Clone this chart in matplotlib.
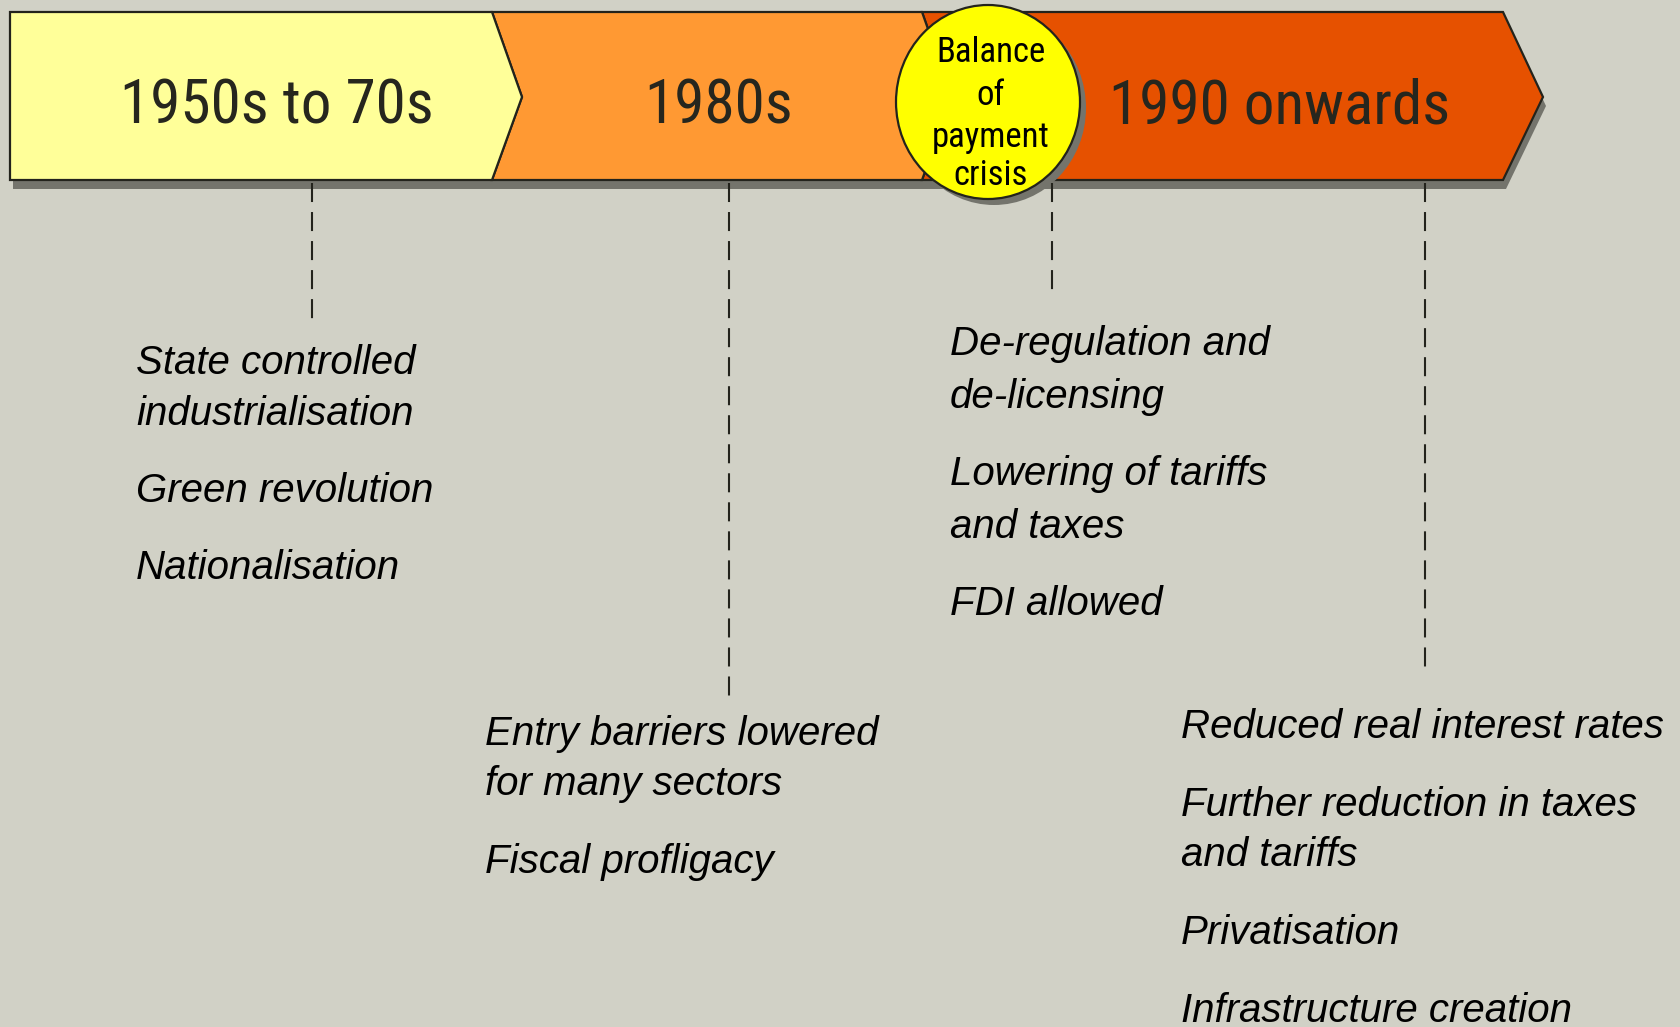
import matplotlib
matplotlib.use("Agg")
import matplotlib.pyplot as plt
from matplotlib.patches import Polygon, Ellipse
from matplotlib import font_manager

# ---------------- data ----------------
periods = ["1950s to 70s", "1980s", "1990 onwards"]
period_colors = ["#FFFF99", "#FF9933", "#E65100"]
crisis_lines = ["Balance", "of", "payment", "crisis"]

block_1950s = [["State controlled", "industrialisation"], ["Green revolution"], ["Nationalisation"]]
block_1980s = [["Entry barriers lowered", "for many sectors"], ["Fiscal profligacy"]]
block_1991 = [["De-regulation and", "de-licensing"], ["Lowering of tariffs", "and taxes"], ["FDI allowed"]]
block_1990s = [["Reduced real interest rates"], ["Further reduction in taxes", "and tariffs"],
               ["Privatisation"], ["Infrastructure creation"]]

# ---------------- style / layout ----------------
BG = "#D1D1C6"
EDGE = "#23231C"
SHADOW = "#74746C"
TXT = "#26261E"

names = {f.name for f in font_manager.fontManager.ttflist}
narrow = None
for cand in ["Liberation Sans Narrow", "Arial Narrow", "Roboto Condensed", "Open Sans Condensed"]:
    if cand in names:
        narrow = cand
        break
base = "Liberation Sans" if "Liberation Sans" in names else "DejaVu Sans"
title_font = narrow if narrow else base
title_size = 44 if narrow else 36
circle_size = 25 if narrow else 21

W, H = 1681, 1027
fig = plt.figure(figsize=(W / 100, H / 100), dpi=100, facecolor=BG)
ax = fig.add_axes([0, 0, 1, 1])
ax.set_xlim(0, W)
ax.set_ylim(H, 0)
ax.axis("off")
ax.set_facecolor(BG)

top, bot, mid = 12, 180, 97
# chevron boundaries (x at top/bottom, tip x at middle)
bounds = [(10, 10), (492, 522), (922, 952), (1503, 1543)]

# banner shadow
dx, dy = 3, 9
outline = [(10 + dx, top + dy), (1503 + dx, top + dy), (1543 + dx, mid + dy),
           (1503 + dx, bot + dy), (10 + dx, bot + dy)]
ax.add_patch(Polygon(outline, closed=True, facecolor=SHADOW, edgecolor="none", zorder=1))

# chevrons, drawn right to left so each tip overlaps the next
for i in reversed(range(len(periods))):
    lx, ltip = bounds[i]
    rx, rtip = bounds[i + 1]
    if i == 0:
        pts = [(lx, top), (rx, top), (rtip, mid), (rx, bot), (lx, bot)]
    else:
        pts = [(lx, top), (rx, top), (rtip, mid), (rx, bot), (lx, bot), (ltip, mid)]
    ax.add_patch(Polygon(pts, closed=True, facecolor=period_colors[i], edgecolor=EDGE,
                         linewidth=1.6, joinstyle="miter", zorder=2 + (len(periods) - i)))

title_x = [277, 719, 1280]
for name, x in zip(periods, title_x):
    ax.text(x, 124, name, ha="center", va="baseline", fontsize=title_size,
            family=title_font, color=TXT, zorder=10)

# crisis circle
cx, cy, cw, ch = 988, 102, 184, 194
ax.add_patch(Ellipse((cx + 6, cy + 6), cw, ch, facecolor=SHADOW, edgecolor="none", zorder=7))
ax.add_patch(Ellipse((cx, cy), cw, ch, facecolor="#FFFF00", edgecolor=EDGE, linewidth=1.6, zorder=8))
for line, yb in zip(crisis_lines, [62, 105, 147, 185]):
    ax.text(991, yb, line, ha="center", va="baseline", fontsize=circle_size,
            family=title_font, color="#000000", zorder=11)

# dashed connectors
plt.rcParams["lines.scale_dashes"] = False
connectors = [(312, 324), (729, 701), (1052, 292), (1425, 667)]
for x, yend in connectors:
    ax.plot([x, x], [183, yend], color=EDGE, linewidth=1.5,
            linestyle=(0, (13.7, 7.2)), solid_capstyle="butt", dash_capstyle="butt", zorder=12)

# bullet text blocks
def draw_block(items, x, y0, line_gap, para_gap):
    y = y0
    for item in items:
        for j, line in enumerate(item):
            ax.text(x, y, line, ha="left", va="baseline", fontsize=29, style="italic",
                    family=base, color="#000000", zorder=10)
            y += line_gap if j < len(item) - 1 else 0
        y += para_gap

draw_block(block_1950s, 136, 374, 51, 77)
draw_block(block_1980s, 485, 745, 50, 78)
draw_block(block_1991, 950, 355, 53, 77)
draw_block(block_1990s, 1181, 738, 50, 78)

fig.savefig("out.png", dpi=100, facecolor=BG)
